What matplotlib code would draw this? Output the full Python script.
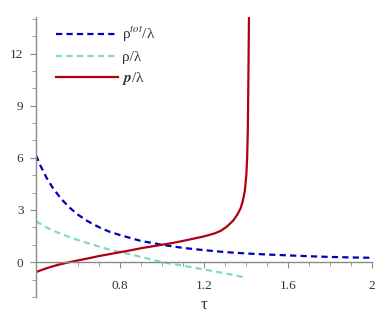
import numpy as np
import matplotlib
matplotlib.use('Agg')
import matplotlib.pyplot as plt
from matplotlib.ticker import MultipleLocator, FuncFormatter

plt.rcParams['font.family'] = ['Liberation Serif', 'DejaVu Serif']
plt.rcParams['mathtext.fontset'] = 'stix'

# rho_tot / lambda
tau_tot = [0.40, 0.42, 0.45, 0.48, 0.52, 0.56, 0.60, 0.65, 0.70, 0.75, 0.80,
           0.90, 1.00, 1.10, 1.20, 1.30, 1.40, 1.50, 1.60, 1.70, 1.80, 1.90, 2.00]
rho_tot = [6.15, 5.58, 4.86, 4.27, 3.64, 3.14, 2.73, 2.33, 2.01, 1.75, 1.56,
           1.22, 1.00, 0.82, 0.69, 0.58, 0.50, 0.44, 0.39, 0.34, 0.30, 0.27, 0.25]

# rho / lambda
tau_rho = [0.40, 0.45, 0.50, 0.56, 0.60, 0.65, 0.70, 0.75, 0.80, 0.85, 0.90,
           0.95, 1.00, 1.05, 1.10, 1.15, 1.20, 1.25, 1.30, 1.35, 1.40]
rho = [2.35, 2.00, 1.72, 1.44, 1.27, 1.08, 0.90, 0.72, 0.58, 0.45, 0.30,
       0.15, 0.00, -0.10, -0.20, -0.31, -0.42, -0.53, -0.64, -0.76, -0.90]

# p / lambda
tau_p = [0.40, 0.45, 0.50, 0.56, 0.60, 0.65, 0.70, 0.75, 0.80, 0.85, 0.90,
         0.95, 1.00, 1.05, 1.10, 1.15, 1.20, 1.25, 1.28, 1.31, 1.34, 1.36,
         1.375, 1.385, 1.395, 1.402, 1.406, 1.409, 1.411, 1.413, 1.415]
p = [-0.57, -0.35, -0.17, 0.00, 0.10, 0.22, 0.35, 0.46, 0.57, 0.68, 0.80,
     0.90, 1.00, 1.10, 1.22, 1.35, 1.48, 1.65, 1.80, 2.05, 2.40, 2.75,
     3.10, 3.50, 4.10, 5.00, 6.00, 7.50, 9.50, 12.0, 14.5]

labels = ['ρ$^{\\mathit{tot}}$/λ', 'ρ/λ', '$\\mathbfit{p}$/λ']

fig = plt.figure(figsize=(3.91, 3.27), dpi=100)
ax = fig.add_axes([0.092, 0.092, 0.859, 0.856])

ax.plot(tau_tot, rho_tot, color='#0000b4', lw=1.6, dashes=(2.8, 1.9), label=labels[0])
ax.plot(tau_rho, rho, color='#7fdcbc', lw=1.6, dashes=(2.8, 1.9), label=labels[1])
ax.plot(tau_p, p, color='#b0000f', lw=1.6, label=labels[2])

ax.set_xlim(0.4, 2.0)
ax.set_ylim(-2, 14.1)

# axes a la Maple
ax.spines['top'].set_visible(False)
ax.spines['right'].set_visible(False)
ax.spines['bottom'].set_position(('data', 0))
for s in ['left', 'bottom']:
    ax.spines[s].set_color('#8a8a8a')
    ax.spines[s].set_linewidth(1.0)

ax.xaxis.set_major_locator(plt.FixedLocator([0.8, 1.2, 1.6, 2.0]))
ax.xaxis.set_minor_locator(MultipleLocator(0.1))
ax.yaxis.set_major_locator(plt.FixedLocator([0, 3, 6, 9, 12]))
ax.yaxis.set_minor_locator(MultipleLocator(1))
ax.xaxis.set_major_formatter(FuncFormatter(lambda v, pos: '%g' % v))

ax.tick_params(which='both', direction='out', color='#8a8a8a', labelcolor='#333333', labelsize=9.5)
ax.tick_params(which='major', length=4)
ax.tick_params(which='minor', length=3)
ax.tick_params(axis='x', pad=9)
ax.tick_params(axis='y', pad=5)

ax.text(1.2, -2.45, 'τ', ha='center', va='center', fontsize=12, color='#333333')

leg = ax.legend(loc='upper left', bbox_to_anchor=(0.02, 1.02), frameon=False,
                handlelength=4.0, handletextpad=0.3, labelspacing=0.4, fontsize=11)
for t in leg.get_texts():
    t.set_color('#333333')

fig.savefig('out.png', dpi=100)
